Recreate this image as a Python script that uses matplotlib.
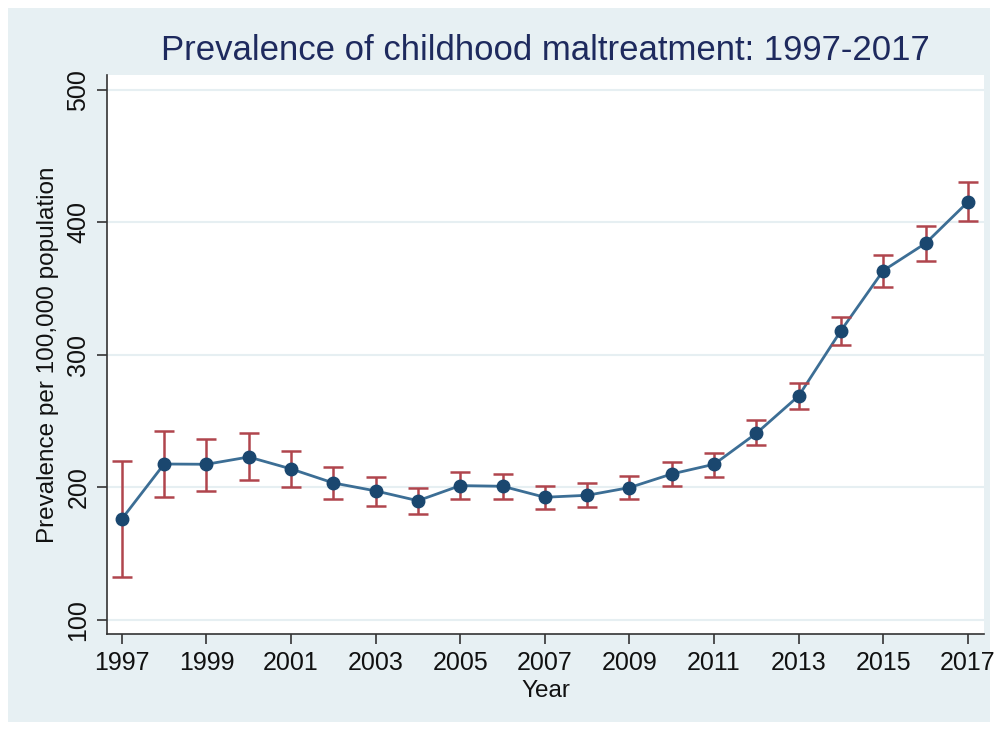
import matplotlib
matplotlib.use("Agg")
import matplotlib.pyplot as plt
from matplotlib.patches import Rectangle

years = list(range(1997, 2018))
prevalence = [176.2, 217.7, 217.5, 223.0, 214.0, 203.4, 197.4, 190.0, 201.4, 200.9,
              192.6, 194.1, 199.9, 210.2, 217.5, 240.9, 269.1, 318.4, 363.7, 384.3, 415.5]
ci_upper = [219.8, 242.4, 236.8, 240.9, 227.8, 215.7, 207.7, 199.6, 211.5, 210.4,
            201.1, 203.2, 208.5, 219.0, 226.3, 250.9, 279.1, 328.9, 375.7, 397.4, 430.2]
ci_lower = [132.7, 193.1, 197.6, 205.4, 200.0, 191.3, 186.3, 180.0, 191.3, 191.3,
            183.5, 185.5, 191.1, 201.1, 208.2, 232.0, 259.5, 307.8, 351.5, 370.7, 400.9]
xticks = list(range(1997, 2018, 2))
yticks = [100, 200, 300, 400, 500]

plt.rcParams["font.family"] = ["Liberation Sans", "DejaVu Sans"]

W, H = 997, 730
fig = plt.figure(figsize=(W / 100, H / 100), dpi=100, facecolor="white")
fig.patches.append(Rectangle((8 / W, 8 / H), 982 / W, 714 / H, transform=fig.transFigure,
                             facecolor="#E7F0F3", edgecolor="none", zorder=-10))

ax = fig.add_axes([107 / W, 1 - 634 / H, 877 / W, 559 / H])
ax.set_facecolor("white")

err_lo = [p - l for p, l in zip(prevalence, ci_lower)]
err_hi = [u - p for p, u in zip(prevalence, ci_upper)]
ax.errorbar(years, prevalence, yerr=[err_lo, err_hi], fmt="none", ecolor="#B0454D",
            elinewidth=1.8, capsize=7, capthick=1.8, zorder=3)
ax.plot(years, prevalence, color="#3C6E95", linewidth=2.0, zorder=2)
ax.plot(years, prevalence, linestyle="none", marker="o", markersize=9,
        markerfacecolor="#1A476F", markeredgecolor="#1A476F", zorder=4)

ax.set_xlim(1996.65, 2017.38)
ax.set_ylim(89.4, 511.3)
ax.set_xticks(xticks)
ax.set_yticks(yticks)
ax.set_yticklabels([str(v) for v in yticks], rotation=90, va="center")
ax.tick_params(axis="both", direction="out", length=7.5, width=1.2, color="#333333",
               labelsize=18, labelcolor="#111111")
ax.tick_params(axis="x", pad=4.5)
ax.tick_params(axis="y", pad=4.5)
ax.grid(axis="y", color="#E6EFF2", linewidth=1.5, zorder=0)
ax.set_axisbelow(True)
for side in ("top", "right"):
    ax.spines[side].set_visible(False)
for side in ("left", "bottom"):
    ax.spines[side].set_color("#333333")
    ax.spines[side].set_linewidth(1.2)

ax.set_xlabel("Year", fontsize=17.5, color="#111111", labelpad=4)
ax.set_ylabel("Prevalence per 100,000 population", fontsize=17.5, color="#111111", labelpad=5)
fig.text(545 / W, 1 - 50 / H, "Prevalence of childhood maltreatment: 1997-2017",
         ha="center", va="center", fontsize=25, color="#1E2A5E")

fig.savefig("out.png", dpi=100, facecolor=fig.get_facecolor())
